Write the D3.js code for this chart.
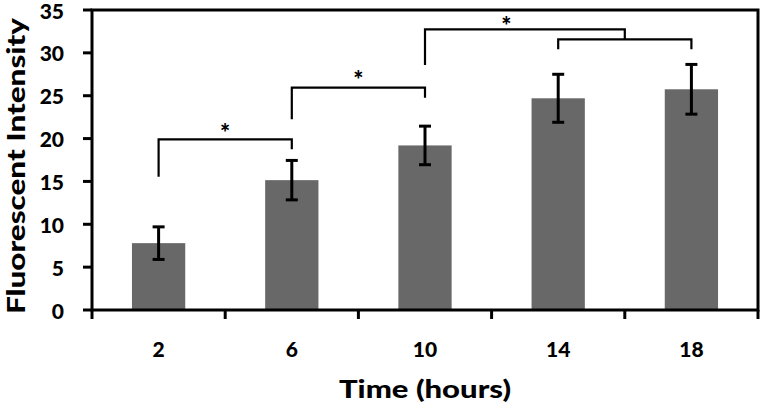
<!DOCTYPE html>
<html><head><meta charset="utf-8">
<script src="https://cdn.jsdelivr.net/npm/d3@7"></script>
<style>body{margin:0;background:#fff}svg{display:block}text{font-family:Lato,"Open Sans",sans-serif;font-weight:900}</style>
</head><body><svg id="c" width="760" height="409"></svg>
<script>
const categories = ["2","6","10","14","18"];
const means = [7.8, 15.15, 19.2, 24.7, 25.75];
const errors = [1.9, 2.3, 2.25, 2.8, 2.9];
const yTicks = [0,5,10,15,20,25,30,35];
// significance brackets: x as category index, y in data units
const brackets = [
  {x1:0, x2:1, top:19.9, b1:15.55, b2:18.75, star:0.5, starY:21.1},
  {x1:1, x2:2, top:25.95, b1:22.25, b2:24.77, star:1.5, starY:27.3},
  {x1:3, x2:4, top:31.58, b1:30.42, b2:30.42, star:null, starY:null},
  {x1:2, x2:3.5, top:32.75, b1:28.58, b2:31.58, star:2.61, starY:33.6}
];

const svg = d3.select("#c");
const L=92, R=758, T=10, B=310;
const x = d3.scaleBand().domain(categories).range([L,R]).padding(0);
const y = d3.scaleLinear().domain([0,35]).range([B,T]);
const xi = i => L + x.step()*(i+0.5);
const bw = x.bandwidth()*0.4;

// bars
svg.selectAll("rect.bar").data(means).join("rect")
  .attr("x",(d,i)=>x(categories[i])+x.bandwidth()/2-bw/2)
  .attr("y",d=>y(d)).attr("width",bw).attr("height",d=>y(0)-y(d))
  .attr("fill","#686868");

// error bars
const eg = svg.append("g").attr("stroke","#000").attr("stroke-width",3);
means.forEach((m,i)=>{
  const cx = xi(i);
  eg.append("line").attr("x1",cx).attr("x2",cx).attr("y1",y(m+errors[i])).attr("y2",y(m-errors[i]));
  [m+errors[i], m-errors[i]].forEach(v=>eg.append("line").attr("x1",cx-6).attr("x2",cx+6).attr("y1",y(v)).attr("y2",y(v)));
});

// brackets
const bg = svg.append("g").attr("fill","none").attr("stroke","#000").attr("stroke-width",2.2);
brackets.forEach(b=>{
  bg.append("path").attr("d",`M${xi(b.x1)},${y(b.b1)}V${y(b.top)}H${xi(b.x2)}V${y(b.b2)}`);
  if(b.star!==null){
    svg.append("text").attr("x",xi(b.star)).attr("y",y(b.starY)+13)
      .attr("text-anchor","middle").attr("font-size",24).text("*");
  }
});

// frame
const fg = svg.append("g").attr("stroke","#000").attr("stroke-width",3).attr("fill","none");
fg.append("rect").attr("x",L).attr("y",T).attr("width",R-L).attr("height",B-T);

// y axis ticks + labels
yTicks.forEach(t=>{
  fg.append("line").attr("x1",L-9).attr("x2",L).attr("y1",y(t)).attr("y2",y(t));
  svg.append("text").attr("x",64).attr("y",y(t)+8.5).attr("text-anchor","end")
    .attr("font-size",21).text(t);
});
// x axis ticks at band boundaries
d3.range(categories.length+1).forEach(i=>{
  const xx = L + x.step()*i;
  fg.append("line").attr("x1",xx).attr("x2",xx).attr("y1",B).attr("y2",B+9);
});
categories.forEach((c,i)=>{
  svg.append("text").attr("x",xi(i)).attr("y",357).attr("text-anchor","middle")
    .attr("font-size",21).text(c);
});

// titles
svg.append("text").attr("x",(L+R)/2).attr("y",398).attr("text-anchor","middle")
  .attr("font-size",25).attr("textLength",172).attr("lengthAdjust","spacingAndGlyphs").text("Time (hours)");
svg.append("text").attr("transform","translate(25,166) rotate(-90)").attr("text-anchor","middle")
  .attr("font-size",25).attr("textLength",296).attr("lengthAdjust","spacingAndGlyphs").text("Fluorescent Intensity");
</script></body></html>
